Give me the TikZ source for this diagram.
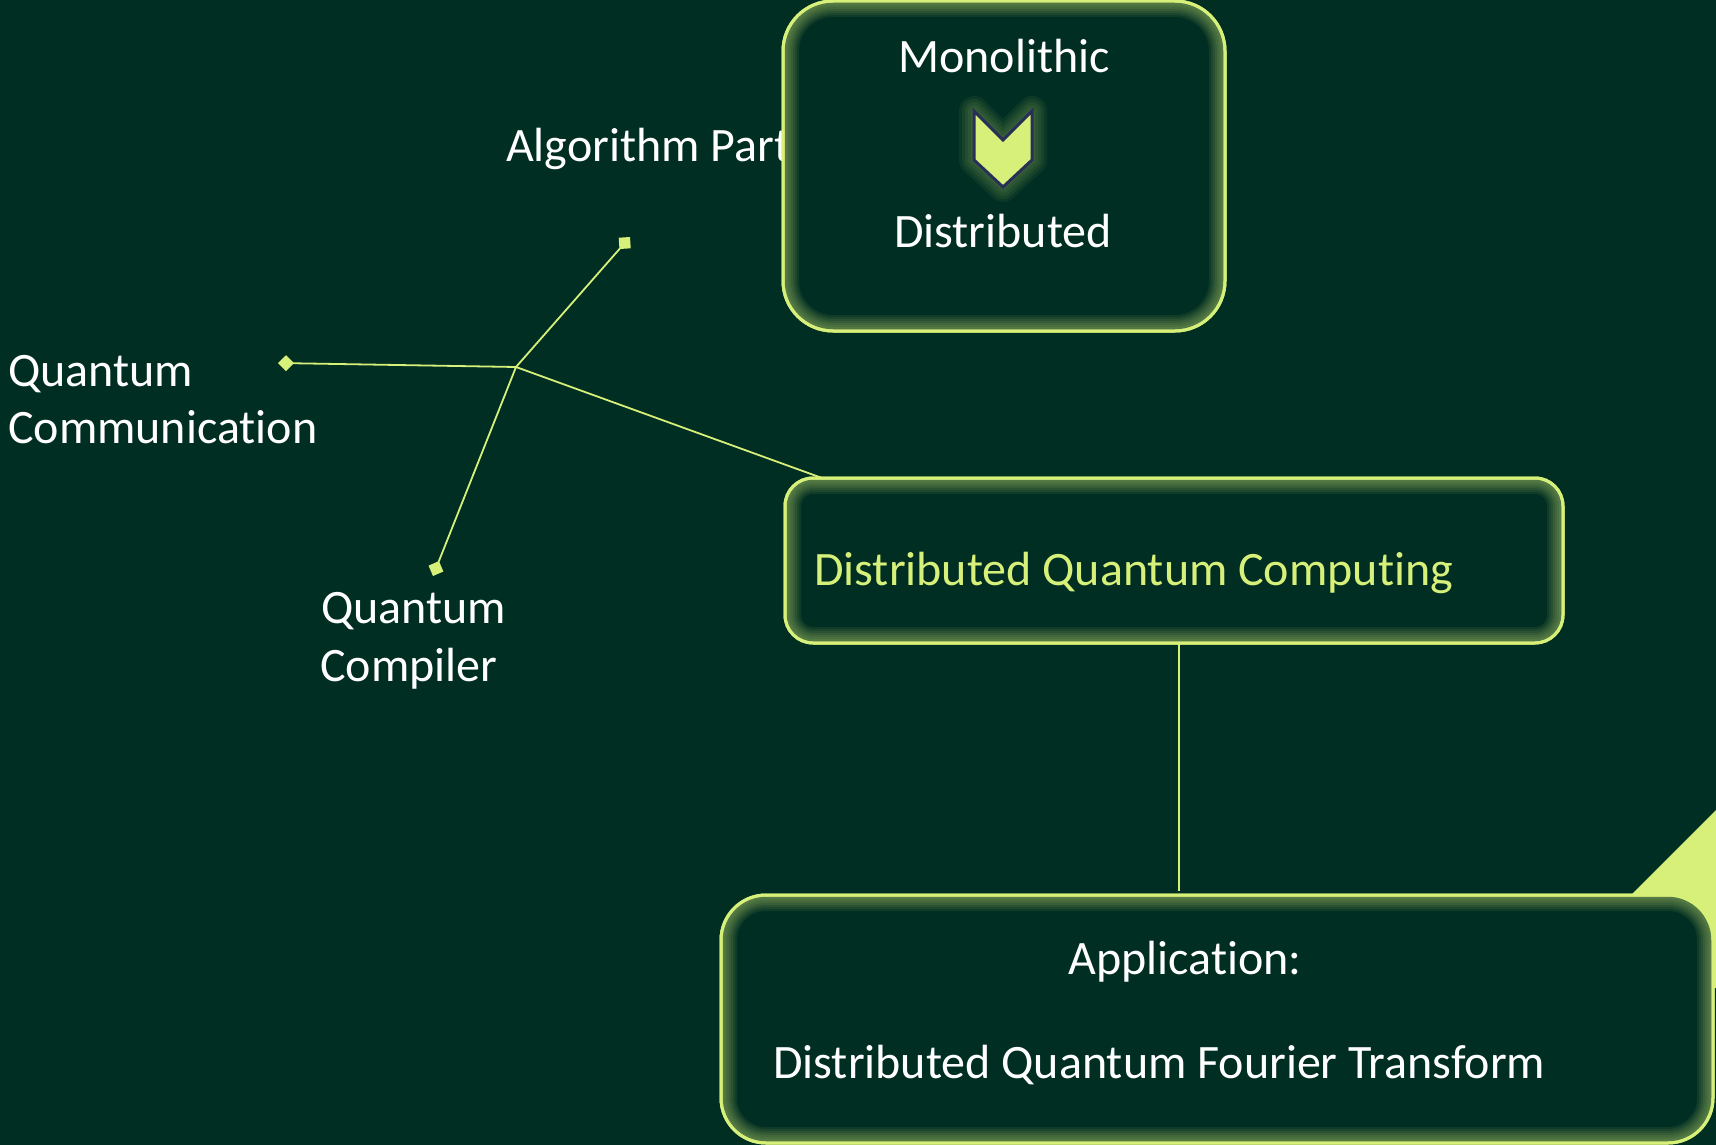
\documentclass[tikz,border=0pt]{standalone}
\usepackage{fontspec}
\setmainfont{Carlito}[Ligatures={NoCommon,NoContextual}]
\usetikzlibrary{arrows.meta}
\definecolor{bg}{HTML}{002E22}
\definecolor{lime}{HTML}{D7F07A}
\definecolor{navy}{HTML}{283058}

\tikzset{
  card/.style={draw=lime, line width=3pt, fill=bg, rounded corners=#1,
    inner sep=0pt, outer sep=0pt},
  label/.style={text=white, inner sep=0pt, font=\fontsize{48}{57}\selectfont},
  hilabel/.style={label, text=lime},
  link/.style={draw=lime, line width=1.8pt},
  tip/.style={-{Diamond[length=16pt,width=16pt]}},
}

% soft inner glow along the border of a card
\newcommand\cardglow[2]{%
  \begin{scope}
    \clip[rounded corners=#2] (#1.north west) rectangle (#1.south east);
    \foreach \w in {4,8,...,32}
      \draw[lime, line width=\w pt, opacity=0.07, rounded corners=#2]
        (#1.north west) rectangle (#1.south east);
  \end{scope}
  \draw[lime, line width=3pt, rounded corners=#2] (#1.north west) rectangle (#1.south east);
}

\begin{document}
\begin{tikzpicture}[x=1pt,y=-1pt]
  \fill[bg] (0,0) rectangle (1716,1145);
  \useasboundingbox (0,0) rectangle (1716,1145);

  % lime wedge peeking out behind the application card
  \fill[lime] (1716,810) -- (1600,926) -- (1600,988) -- (1716,988) -- cycle;

  % branch of related topics
  \coordinate (hub) at (516,367);
  \coordinate (endAlg) at (630,237);
  \coordinate (endCom) at (278,363);
  \coordinate (endCmp) at (433,576);
  \coordinate (dqcIn) at (822,478);
  \coordinate (dqcOut) at (1179,643);
  \coordinate (appIn) at (1179,891);

  \draw[link, tip] (hub) -- (endAlg);
  \draw[link, tip] (hub) -- (endCom);
  \draw[link, tip] (hub) -- (endCmp);
  \draw[link] (hub) -- (dqcIn);
  \draw[link] (dqcOut) -- (appIn);

  \node[label, anchor=base west] (alg) at (506,161) {Algorithm Part};
  \node[label, anchor=base west] (com1) at (8,386) {Quantum};
  \node[label, anchor=base west] (com2) at (8,443) {Communication};
  \node[label, anchor=base west] (cmp1) at (321,623) {Quantum};
  \node[label, anchor=base west] (cmp2) at (320,681) {Compiler};

  % cards
  \node[card=50pt, minimum width=442pt, minimum height=330pt] (mono) at (1004,166) {};
  \cardglow{mono}{50pt}
  \node[card=28pt, minimum width=778pt, minimum height=165pt] (dqc) at (1174,560.5) {};
  \cardglow{dqc}{28pt}
  \node[card=45pt, minimum width=992pt, minimum height=248pt] (app) at (1217,1019) {};
  \cardglow{app}{45pt}

  \node[label, anchor=base] (monoT) at (1004,73) {Monolithic};
  \node[label, anchor=base] (distT) at (1003,247) {Distributed};
  \node[hilabel, anchor=base west] (dqcT) at (814,585) {Distributed Quantum Computing};
  \node[label, anchor=base] (appT) at (1185,974) {Application:};
  \node[label, anchor=base west] (qftT) at (773,1078) {Distributed Quantum Fourier Transform};

  % chevron between the two regimes, with a soft halo
  \foreach \w in {6,12,...,30}
    \draw[lime, line width=\w pt, opacity=0.06, line join=round]
      (974,111) -- (1003,140) -- (1032,111) -- (1032,160) -- (1003,187) -- (974,160) -- cycle;
  \filldraw[fill=lime, draw=navy, line width=3pt]
    (974,111) -- (1003,140) -- (1032,111) -- (1032,160) -- (1003,187) -- (974,160) -- cycle;
\end{tikzpicture}
\end{document}
